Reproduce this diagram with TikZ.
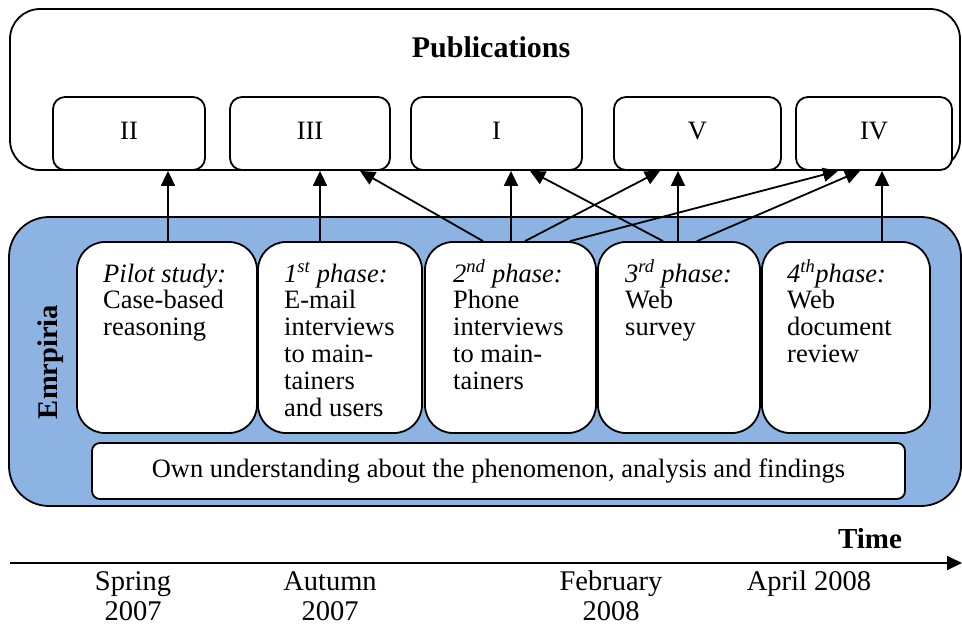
\documentclass[tikz,border=0pt]{standalone}
\usepackage{fontspec}
\setmainfont{Liberation Serif}
\usetikzlibrary{arrows.meta}
\definecolor{empblue}{RGB}{141,179,226}

\begin{document}
\begin{tikzpicture}[x=1pt,y=-1pt,
  frame/.style={draw=black, line width=1.8pt},
  pubbox/.style={frame, fill=white, rounded corners=12pt, minimum height=73pt,
    font=\fontsize{26.5}{27}\selectfont, text height=17.5pt, text depth=6pt},
  phasebox/.style={frame, fill=white, rounded corners=28pt, minimum height=191pt},
  phasetext/.style={anchor=base west, inner sep=0pt, font=\fontsize{26.5}{26.8}\selectfont},
  datetext/.style={anchor=base, inner sep=0pt, font=\fontsize{28.5}{30}\selectfont},
  link/.style={line width=1.8pt, -{Triangle[length=15pt,width=14pt]}}
]
\useasboundingbox (0,0) rectangle (962,625);

% publications frame
\node[frame, rounded corners=30pt, minimum width=950pt, minimum height=161pt] (pubs) at (485,89.5) {};
\node[anchor=base, inner sep=0pt, font=\fontsize{30}{32}\selectfont\bfseries] (pubtitle) at (491,57) {Publications};

\node[pubbox, minimum width=152pt] (II)  at (129,133.5)   {II};
\node[pubbox, minimum width=160pt] (III) at (310,133.5)   {III};
\node[pubbox, minimum width=171pt] (I)   at (496.5,133.5) {I};
\node[pubbox, minimum width=167pt] (V)   at (697.5,133.5) {V};
\node[pubbox, minimum width=156pt] (IV)  at (874,133.5)   {IV};

% empirical work band
\node[frame, fill=empblue, rounded corners=40pt, minimum width=952pt, minimum height=289pt] (emp) at (485,361.5) {};
\node[rotate=90, inner sep=0pt, font=\fontsize{28.5}{29}\selectfont\bfseries] (emptitle) at (51,362) {Emrpiria};

\node[phasebox, minimum width=180pt] (pilot) at (167,337.5)   {};
\node[phasebox, minimum width=164pt] (ph1)   at (340,337.5)   {};
\node[phasebox, minimum width=171pt] (ph2)   at (510.5,337.5) {};
\node[phasebox, minimum width=162pt] (ph3)   at (679,337.5)   {};
\node[phasebox, minimum width=168pt] (ph4)   at (846,337.5)   {};

\node[phasetext] (pilott) at (103,282) {\begin{tabular}[t]{@{}l@{}}\textit{Pilot study:}\\Case-based\\reasoning\end{tabular}};
\node[phasetext] (ph1t) at (284,282) {\begin{tabular}[t]{@{}l@{}}\textit{1\textsuperscript{st} phase:}\\E-mail\\interviews\\to main-\\tainers\\and users\end{tabular}};
\node[phasetext] (ph2t) at (453,282) {\begin{tabular}[t]{@{}l@{}}\textit{2\textsuperscript{nd} phase:}\\Phone\\interviews\\to main-\\tainers\end{tabular}};
\node[phasetext] (ph3t) at (625,282) {\begin{tabular}[t]{@{}l@{}}\textit{3\textsuperscript{rd} phase:}\\Web\\survey\end{tabular}};
\node[phasetext] (ph4t) at (787,282) {\begin{tabular}[t]{@{}l@{}}\textit{4\textsuperscript{th}phase:}\\Web\\document\\review\end{tabular}};

\node[frame, fill=white, rounded corners=8pt, minimum width=813pt, minimum height=56pt,
  font=\fontsize{26.5}{27}\selectfont] (own) at (498.5,471)
  {Own understanding about the phenomenon, analysis and findings};

% links from phases to publications
\draw[link] ([xshift=1pt]pilot.north) -- ([xshift=39pt]II.south);
\draw[link] ([xshift=-20pt]ph1.north) -- ([xshift=10pt]III.south);
\draw[link] ([xshift=-27.5pt]ph2.north) -- ([xshift=50pt]III.south);
\draw[link] ([xshift=0.5pt]ph2.north) -- ([xshift=14.5pt]I.south);
\draw[link] ([xshift=14.5pt]ph2.north) -- ([xshift=-37.5pt]V.south);
\draw[link] ([xshift=59.5pt]ph2.north) -- ([xshift=-36pt]IV.south);
\draw[link] ([xshift=-16pt]ph3.north) -- ([xshift=33.5pt]I.south);
\draw[link] ([xshift=-1pt]ph3.north) -- ([xshift=-19.5pt]V.south);
\draw[link] ([xshift=18pt]ph3.north) -- ([xshift=-14pt]IV.south);
\draw[link] ([xshift=36pt]ph4.north) -- ([xshift=8pt]IV.south);

% time axis
\coordinate (t0) at (10,563);
\coordinate (t1) at (962,563);
\draw[link] (t0) -- (t1);
\node[anchor=base, inner sep=0pt, font=\fontsize{29}{30}\selectfont\bfseries] (time) at (870,548) {Time};

\node[datetext] (d1) at (133,590) {\begin{tabular}[t]{@{}c@{}}Spring\\2007\end{tabular}};
\node[datetext] (d2) at (330,590) {\begin{tabular}[t]{@{}c@{}}Autumn\\2007\end{tabular}};
\node[datetext] (d3) at (611,590) {\begin{tabular}[t]{@{}c@{}}February\\2008\end{tabular}};
\node[datetext] (d4) at (809,590) {April 2008};
\end{tikzpicture}
\end{document}
